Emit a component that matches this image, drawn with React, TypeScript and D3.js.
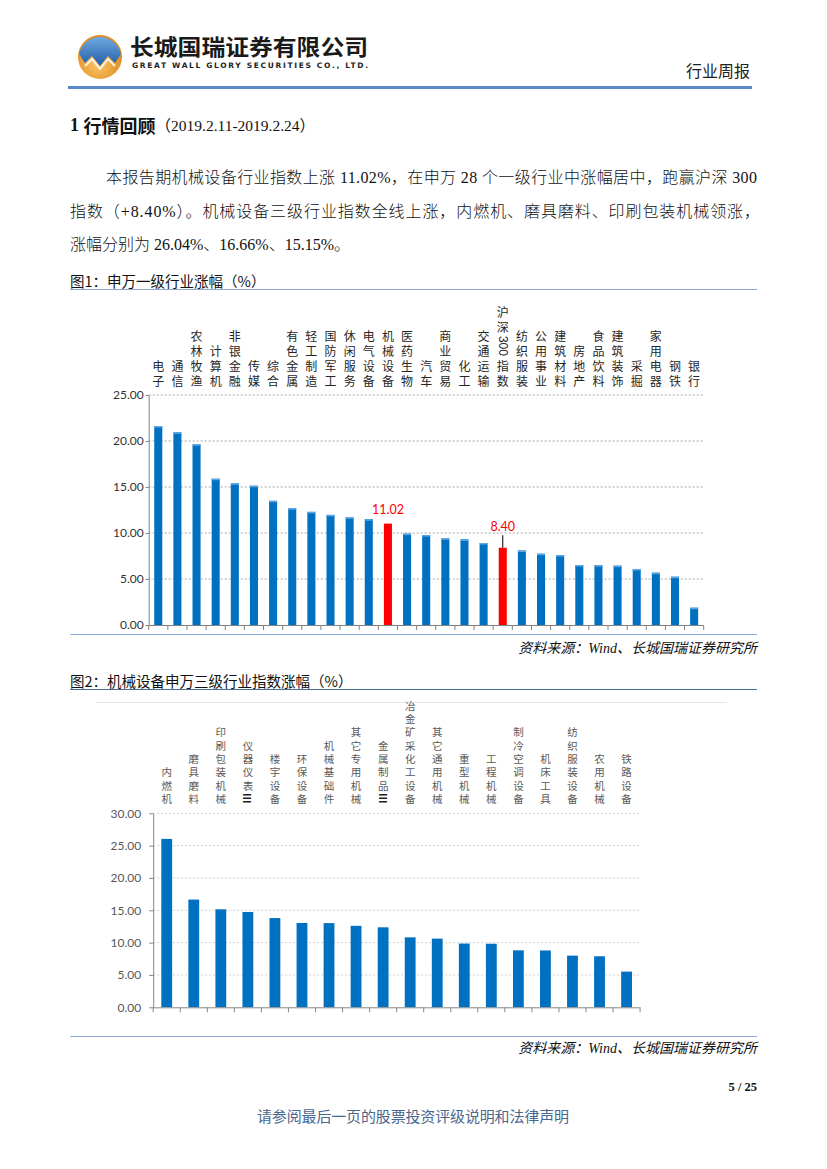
import React, { useEffect, useRef } from "react";
import * as d3 from "d3";

// 图1：申万一级行业涨幅（%）
const industries = [
  "电子", "通信", "农林牧渔", "计算机", "非银金融", "传媒", "综合", "有色金属",
  "轻工制造", "国防军工", "休闲服务", "电气设备", "机械设备", "医药生物", "汽车",
  "商业贸易", "化工", "交通运输", "沪深300指数", "纺织服装", "公用事业", "建筑材料",
  "房地产", "食品饮料", "建筑装饰", "采掘", "家用电器", "钢铁", "银行",
];
const industryGains = [
  21.63, 20.94, 19.64, 15.9, 15.4, 15.14, 13.5, 12.7, 12.3, 11.97, 11.7, 11.5,
  11.02, 9.93, 9.78, 9.42, 9.31, 8.91, 8.4, 8.1, 7.75, 7.6, 6.52, 6.5, 6.45,
  6.09, 5.69, 5.25, 1.88,
];
const highlighted = ["机械设备", "沪深300指数"];
const industryTicks = [0, 5, 10, 15, 20, 25];

// 图2：机械设备申万三级行业指数涨幅（%）
const subIndustries = [
  "内燃机", "磨具磨料", "印刷包装机械", "仪器仪表Ⅲ", "楼宇设备", "环保设备",
  "机械基础件", "其它专用机械", "金属制品Ⅲ", "冶金矿采化工设备", "其它通用机械",
  "重型机械", "工程机械", "制冷空调设备", "机床工具", "纺织服装设备", "农用机械", "铁路设备",
];
const subGains = [
  26.04, 16.66, 15.15, 14.74, 13.8, 13.04, 13.02, 12.6, 12.37, 10.82, 10.62,
  9.86, 9.83, 8.81, 8.79, 7.99, 7.89, 5.52,
];
const subTicks = [0, 5, 10, 15, 20, 25, 30];

const CJK = "'Noto Sans CJK SC', sans-serif";
const SERIF = "'Liberation Serif', 'Noto Sans CJK SC', serif";
const NUM = "'Lato', 'Liberation Sans', sans-serif";

// vertical label pieces: CJK upright, digit runs and roman numerals turned sideways
function splitLabel(label: string) {
  const parts = label.match(/[0-9]+|Ⅲ|./gu) || [];
  return parts.map((t) => ({ t, rot: /[0-9]/.test(t) || t === "Ⅲ" }));
}

interface ChartCfg {
  names: string[];
  values: number[];
  ticks: number[];
  left: number;
  right: number;
  top: number;
  bottom: number;
  pad: number;
  red?: string[];
  cap?: boolean;
  labelSize: number;
  labelStep: number;
  labelBottom: number;
  labelColor: string;
  gridColor: string;
  axisColor: string;
  tickColor: string;
  tickSize: number;
  tickPad: number;
}

function drawChart(g: d3.Selection<SVGGElement, unknown, null, undefined>, c: ChartCfg) {
  const x = d3.scaleBand<string>()
    .domain(c.names)
    .range([c.left, c.right])
    .paddingInner(c.pad)
    .paddingOuter(c.pad / 2);
  const y = d3.scaleLinear()
    .domain([0, d3.max(c.ticks) as number])
    .range([c.bottom, c.top]);

  // dotted gridlines
  g.append("g").selectAll("line")
    .data(c.ticks.filter((t) => t > 0))
    .join("line")
    .attr("x1", c.left).attr("x2", c.right)
    .attr("y1", (d) => y(d)).attr("y2", (d) => y(d))
    .attr("stroke", c.gridColor)
    .attr("stroke-width", 1)
    .attr("stroke-dasharray", "2,2");

  const data = c.names.map((n, i) => ({ n, v: c.values[i] }));
  const isRed = (n: string) => (c.red || []).includes(n);

  g.append("g").selectAll("rect")
    .data(data)
    .join("rect")
    .attr("x", (d) => x(d.n) as number)
    .attr("y", (d) => y(d.v))
    .attr("width", x.bandwidth())
    .attr("height", (d) => c.bottom - y(d.v))
    .attr("fill", (d) => (isRed(d.n) ? "#FF0000" : "#0070C0"));

  if (c.cap) {
    g.append("g").selectAll("rect")
      .data(data.filter((d) => !isRed(d.n)))
      .join("rect")
      .attr("x", (d) => x(d.n) as number)
      .attr("y", (d) => y(d.v))
      .attr("width", x.bandwidth())
      .attr("height", 1.5)
      .attr("fill", "#5FA7E3");
  }

  // y axis
  const ya = g.append("g")
    .attr("transform", `translate(${c.left},0)`)
    .call(
      d3.axisLeft(y)
        .tickValues(c.ticks)
        .tickFormat(d3.format(".2f"))
        .tickSizeInner(c.tickSize)
        .tickSizeOuter(0)
        .tickPadding(c.tickPad)
    );
  ya.select(".domain").attr("stroke", c.axisColor);
  ya.selectAll(".tick line").attr("stroke", c.axisColor);
  ya.selectAll(".tick text")
    .attr("fill", c.tickColor)
    .style("font-family", NUM)
    .style("font-size", "12px");

  // x axis with ticks between categories
  g.append("line")
    .attr("x1", c.left).attr("x2", c.right)
    .attr("y1", c.bottom + 0.5).attr("y2", c.bottom + 0.5)
    .attr("stroke", c.axisColor);
  g.append("g").selectAll("line")
    .data(d3.range(c.names.length + 1))
    .join("line")
    .attr("x1", (i) => c.left + i * x.step())
    .attr("x2", (i) => c.left + i * x.step())
    .attr("y1", c.bottom)
    .attr("y2", c.bottom + 5)
    .attr("stroke", c.axisColor);

  // vertical category labels, stacked upwards from the bottom row
  const lab = g.append("g")
    .style("font-family", CJK)
    .style("font-size", `${c.labelSize}px`)
    .attr("fill", c.labelColor)
    .attr("text-anchor", "middle");
  c.names.forEach((name) => {
    const cx = (x(name) as number) + x.bandwidth() / 2;
    let cursor = c.labelBottom;
    splitLabel(name).reverse().forEach((p) => {
      const h = p.rot && p.t !== "Ⅲ"
        ? p.t.length * c.labelSize * 0.56 + 3
        : c.labelStep;
      const cy = cursor - h / 2;
      const t = lab.append("text")
        .attr("dominant-baseline", "central")
        .text(p.t);
      if (p.rot) {
        t.attr("transform", `translate(${cx},${cy}) rotate(90)`)
          .style("font-family", p.t === "Ⅲ" ? CJK : "'Liberation Sans', sans-serif")
          .attr("font-weight", p.t === "Ⅲ" ? 700 : 400)
          .attr("fill", p.t === "Ⅲ" ? "#222" : c.labelColor);
      } else {
        t.attr("x", cx).attr("y", cy);
      }
      cursor -= h;
    });
  });

  return { x, y };
}

export default function App() {
  const chart1 = useRef<SVGGElement>(null);
  const chart2 = useRef<SVGGElement>(null);

  useEffect(() => {
    const g1 = d3.select(chart1.current as SVGGElement);
    g1.selectAll("*").remove();
    const { x, y } = drawChart(g1, {
      names: industries,
      values: industryGains,
      ticks: industryTicks,
      left: 148.7,
      right: 703.7,
      top: 395,
      bottom: 625,
      pad: 0.58,
      red: highlighted,
      cap: true,
      labelSize: 12,
      labelStep: 15,
      labelBottom: 387.5,
      labelColor: "#262626",
      gridColor: "#A6A6A6",
      axisColor: "#808080",
      tickColor: "#333",
      tickSize: 3,
      tickPad: 2,
    });

    // red value callouts
    highlighted.forEach((name, k) => {
      const v = industryGains[industries.indexOf(name)];
      const cx = (x(name) as number) + x.bandwidth() / 2;
      const leader = k === 1;
      g1.append("text")
        .attr("x", cx)
        .attr("y", y(v) - (leader ? 21 : 14.5))
        .attr("text-anchor", "middle")
        .attr("dominant-baseline", "central")
        .attr("fill", "#FF0000")
        .style("font-family", NUM)
        .style("font-size", "12.5px")
        .text(v.toFixed(2));
      if (leader) {
        g1.append("line")
          .attr("x1", cx).attr("x2", cx)
          .attr("y1", y(v) - 12.5).attr("y2", y(v))
          .attr("stroke", "#000").attr("stroke-width", 1);
      }
    });

    const g2 = d3.select(chart2.current as SVGGElement);
    g2.selectAll("*").remove();
    drawChart(g2, {
      names: subIndustries,
      values: subGains,
      ticks: subTicks,
      left: 153.2,
      right: 640.1,
      top: 813.3,
      bottom: 1007.3,
      pad: 0.6,
      labelSize: 10.5,
      labelStep: 13.3,
      labelBottom: 805,
      labelColor: "#595959",
      gridColor: "#D0D0D0",
      axisColor: "#868686",
      tickColor: "#595959",
      tickSize: 4,
      tickPad: 8,
    });
  }, []);

  return (
    <div style={{ position: "absolute", left: 0, top: 0 }}>
      <svg width={827} height={1169} style={{ display: "block", background: "#fff" }}>
        <defs>
          <radialGradient id="logoOrange" cx="45%" cy="65%" r="60%">
            <stop offset="0%" stopColor="#FBC96A" />
            <stop offset="100%" stopColor="#E0891C" />
          </radialGradient>
          <linearGradient id="logoBlue" x1="0" y1="0" x2="0" y2="1">
            <stop offset="0%" stopColor="#6FA9E0" />
            <stop offset="100%" stopColor="#245DA8" />
          </linearGradient>
        </defs>

        {/* header */}
        <g transform="translate(100,57)">
          <circle r={22} fill="url(#logoOrange)" />
          <path
            d="M-21,-3 A21.5,21.5 0 0 1 21,-3 L15,6 L8,-1 L0,9 L-8,-1 L-15,6 Z"
            fill="url(#logoBlue)"
          />
          <path d="M-15,9 L-8,2 L0,12 L8,2 L15,9" fill="none" stroke="#fff" strokeWidth={2} opacity={0.85} />
        </g>
        <text x={130} y={54.5} fontFamily={CJK} fontWeight={700} fontSize={22} fill="#1a1a1a" textLength={238} lengthAdjust="spacingAndGlyphs">
          长城国瑞证券有限公司
        </text>
        <text x={132} y={68} fontFamily="'DejaVu Sans', sans-serif" fontWeight={700} fontSize={7.5} fill="#222" textLength={236} lengthAdjust="spacing">
          GREAT WALL GLORY SECURITIES CO., LTD.
        </text>
        <text x={750} y={71} textAnchor="end" dominantBaseline="central" fontFamily={SERIF} fontSize={16} fill="#222">
          行业周报
        </text>
        <rect x={68} y={86} width={684} height={3} fill="#5B88C6" />

        {/* section heading and text */}
        <text x={70} y={125} dominantBaseline="central" fill="#111">
          <tspan fontFamily={SERIF} fontWeight={700} fontSize={18}>1 </tspan>
          <tspan fontFamily={CJK} fontWeight={700} fontSize={18}>行情回顾</tspan>
          <tspan fontFamily={SERIF} fontSize={15.5}>（2019.2.11-2019.2.24）</tspan>
        </text>
        <g fontFamily={SERIF} fontSize={16} fill="#111" fontWeight={300}>
          <text x={106} y={177} dominantBaseline="central" textLength={651} lengthAdjust="spacing">
            本报告期机械设备行业指数上涨 11.02%，在申万 28 个一级行业中涨幅居中，跑赢沪深 300
          </text>
          <text x={70} y={211} dominantBaseline="central" textLength={690} lengthAdjust="spacing">
            指数（+8.40%）。机械设备三级行业指数全线上涨，内燃机、磨具磨料、印刷包装机械领涨，
          </text>
          <text x={70} y={244} dominantBaseline="central">
            涨幅分别为 26.04%、16.66%、15.15%。
          </text>
        </g>

        {/* figure 1 */}
        <text x={70} y={280} dominantBaseline="central" fontFamily={CJK} fontSize={14.5} fill="#111">
          图1：申万一级行业涨幅（%）
        </text>
        <line x1={70} x2={757} y1={289.5} y2={289.5} stroke="#8CA9D3" strokeWidth={1} />
        <g ref={chart1} />
        <line x1={70} x2={757} y1={634.5} y2={634.5} stroke="#8DB0DE" strokeWidth={1} />
        <text x={757} y={648} textAnchor="end" dominantBaseline="central" fontFamily={SERIF} fontStyle="italic" fontSize={14} fill="#111">
          资料来源：Wind、长城国瑞证券研究所
        </text>

        {/* figure 2 */}
        <text x={70} y={680} dominantBaseline="central" fontFamily={CJK} fontSize={14.5} fill="#111">
          图2：机械设备申万三级行业指数涨幅（%）
        </text>
        <line x1={70} x2={757} y1={689.5} y2={689.5} stroke="#456E9A" strokeWidth={1} />
        <line x1={96} x2={727} y1={702.5} y2={702.5} stroke="#E6E6E6" strokeWidth={1} />
        <g ref={chart2} />
        <line x1={70} x2={757} y1={1036.5} y2={1036.5} stroke="#8EA9DB" strokeWidth={1} />
        <text x={757} y={1048} textAnchor="end" dominantBaseline="central" fontFamily={SERIF} fontStyle="italic" fontSize={14} fill="#111">
          资料来源：Wind、长城国瑞证券研究所
        </text>

        {/* footer */}
        <text x={757} y={1087} textAnchor="end" dominantBaseline="central" fontFamily={SERIF} fontWeight={700} fontSize={12.5} fill="#111">
          5 / 25
        </text>
        <text x={413} y={1117} textAnchor="middle" dominantBaseline="central" fontFamily={SERIF} fontSize={15} fill="#4A6790" textLength={312} lengthAdjust="spacing">
          请参阅最后一页的股票投资评级说明和法律声明
        </text>
      </svg>
    </div>
  );
}
